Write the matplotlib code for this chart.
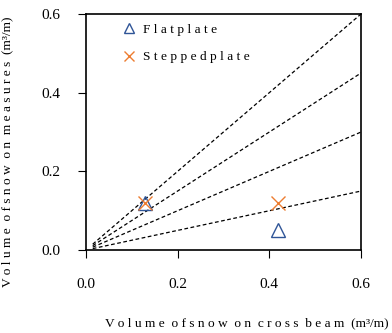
import matplotlib
matplotlib.use("Agg")
import matplotlib.pyplot as plt
import numpy as np

plt.rcParams['font.family'] = ['Liberation Serif', 'DejaVu Serif']

# Data
flat_x = [0.13, 0.42]
flat_y = [0.12, 0.05]
step_x = [0.13, 0.42]
step_y = [0.12, 0.12]
ratios = [1.0, 0.75, 0.5, 0.25]
line_x = [0.015, 0.6]
ticks = [0.0, 0.2, 0.4, 0.6]
tick_labels = ["0.0", "0.2", "0.4", "0.6"]

fig = plt.figure(figsize=(3.92, 3.33), dpi=100)
ax = fig.add_axes([0.219, 0.249, 0.702, 0.709])

for r in ratios:
    ax.plot(line_x, [r * v for v in line_x], color='black', lw=0.9,
            linestyle=(0, (3, 2)), zorder=1)

ax.plot(flat_x, flat_y, linestyle='none', marker='^', markersize=10,
        markerfacecolor='none', markeredgecolor='#2F5597', markeredgewidth=1.0,
        label='F l a t p l a t e', zorder=3)
ax.plot(step_x, step_y, linestyle='none', marker='x', markersize=10,
        color='#ED7D31', markeredgewidth=1.0,
        label='S t e p p e d p l a t e', zorder=3)

ax.set_xlim(0, 0.6)
ax.set_ylim(0, 0.6)
ax.set_xticks(ticks)
ax.set_xticklabels(tick_labels)
ax.set_yticks(ticks)
ax.set_yticklabels(tick_labels)
ax.tick_params(direction='out', length=6, width=0.8, labelsize=11, pad=12)
ax.tick_params(axis='x', pad=14)
for s in ax.spines.values():
    s.set_linewidth(1.2)

ax.set_xlabel('V o l u m e  o f s n o w  o n  c r o s s  b e a m  (m³/m)', fontsize=9.6, labelpad=14)
ax.xaxis.set_label_coords(0.585, -0.285)
ax.set_ylabel('V o l u m e  o f s n o w  o n  m e a s u r e s  (m³/m)', fontsize=9.6, labelpad=12)
ax.yaxis.set_label_coords(-0.262, 0.415)

leg = ax.legend(loc='upper left', frameon=False, fontsize=9.6, handlelength=1.0,
                handletextpad=0.5, labelspacing=1.15, borderaxespad=0.3,
                markerscale=0.75, bbox_to_anchor=(0.1, 1.0))

fig.savefig('out.png', dpi=100)
